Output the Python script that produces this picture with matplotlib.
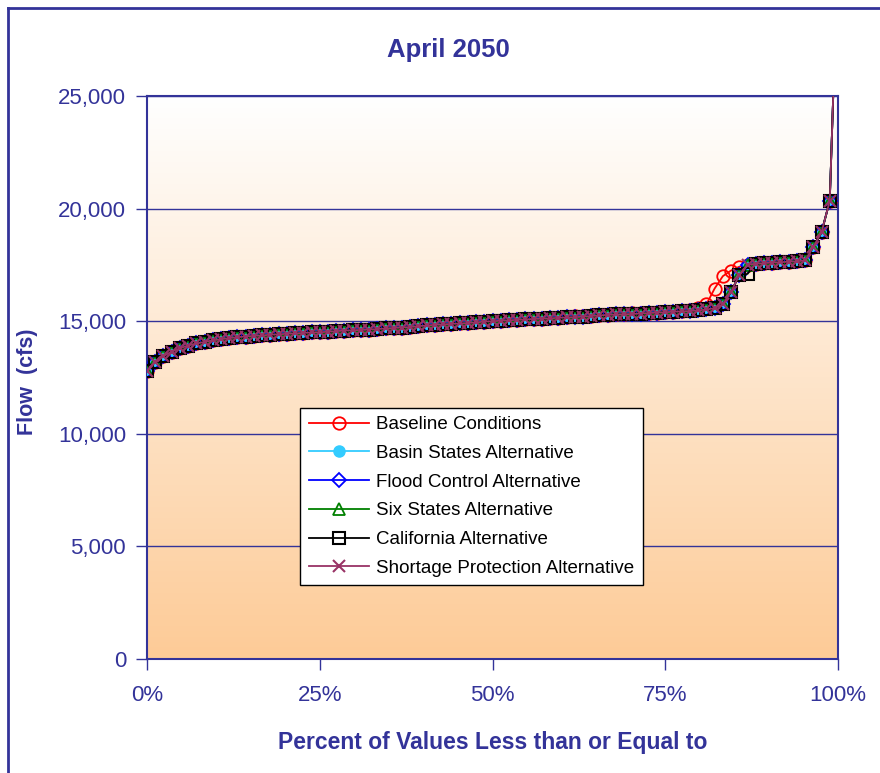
import numpy as np
import matplotlib
matplotlib.use('Agg')
import matplotlib.pyplot as plt
from matplotlib.colors import LinearSegmentedColormap
from matplotlib.ticker import FuncFormatter
from matplotlib.lines import Line2D

plt.rcParams['font.family'] = ['Liberation Sans', 'DejaVu Sans']

# データ (85 traces, April 2050)
n_traces = 85
pct = [i * 100.0 / (n_traces - 1) for i in range(n_traces)]

alt_flow = [
    12800, 13200, 13450, 13650, 13800, 13920, 14010, 14080, 14150, 14200,
    14250, 14290, 14320, 14350, 14370, 14400, 14420, 14440, 14460, 14480,
    14500, 14510, 14530, 14560, 14580, 14600, 14610, 14630, 14650, 14680,
    14700, 14720, 14740, 14780, 14810, 14840, 14860, 14880, 14900, 14920,
    14950, 14980, 15000, 15020, 15040, 15060, 15080, 15100, 15110, 15130,
    15150, 15170, 15180, 15200, 15230, 15260, 15280, 15300, 15310, 15320,
    15340, 15360, 15380, 15400, 15420, 15440, 15450, 15480, 15520, 15580,
    15750, 16300, 17050, 17500, 17550, 17580, 17600, 17620, 17640, 17660,
    17700, 18300, 18950, 20350, 31500,
]

baseline = list(alt_flow)
baseline[52] = 15220
baseline[53] = 15240
baseline[59] = 15360
baseline[60] = 15380
baseline[66] = 15500
baseline[67] = 15580
baseline[68] = 15750
baseline[69] = 16450
baseline[70] = 17000
baseline[71] = 17250
baseline[72] = 17420

basin_states = list(alt_flow)
flood_control = list(alt_flow)
six_states = list(alt_flow)
california = list(alt_flow)
california[73] = 17100
shortage_protection = list(alt_flow)

navy = '#333399'

fig = plt.figure(figsize=(8.8, 7.73), dpi=100)
ax = fig.add_axes([147 / 880, 1 - 659 / 773, 691 / 880, 563 / 773])

# 背景グラデーション
cmap = LinearSegmentedColormap.from_list('peach', ['#FFFFFF', '#FDCB97'])
grad = np.linspace(0, 1, 256).reshape(-1, 1)
ax.imshow(grad, extent=[0, 100, 0, 25000], aspect='auto', cmap=cmap, zorder=0)

ax.yaxis.grid(True, color=navy, linewidth=1.0, zorder=1)

series = [
    ('Baseline Conditions', baseline, dict(color='#FF0000', marker='o', mfc='none', ms=9, mew=1.3)),
    ('Basin States Alternative', basin_states, dict(color='#33CCFF', marker='o', mfc='#33CCFF', ms=8, mew=1)),
    ('Flood Control Alternative', flood_control, dict(color='#0000FF', marker='D', mfc='none', ms=7, mew=1.3)),
    ('Six States Alternative', six_states, dict(color='#008000', marker='^', mfc='none', ms=8, mew=1.3)),
    ('California Alternative', california, dict(color='#000000', marker='s', mfc='none', ms=9, mew=1.5)),
    ('Shortage Protection Alternative', shortage_protection, dict(color='#993366', marker='x', ms=8, mew=1.5)),
]
for i, (name, vals, style) in enumerate(series):
    ax.plot(pct, vals, label=name, linewidth=1.3, zorder=3 + i, **style)

ax.set_xlim(0, 100)
ax.set_ylim(0, 25000)
ax.set_xticks([0, 25, 50, 75, 100])
ax.set_yticks(range(0, 25001, 5000))
ax.xaxis.set_major_formatter(FuncFormatter(lambda v, p: f'{int(v)}%'))
ax.yaxis.set_major_formatter(FuncFormatter(lambda v, p: f'{int(v):,}'))
ax.tick_params(axis='both', colors=navy, labelcolor=navy, labelsize=16,
               direction='out', length=8, width=1)
ax.tick_params(axis='y', pad=7)
ax.tick_params(axis='x', pad=11)
for sp in ax.spines.values():
    sp.set_color(navy)
    sp.set_linewidth(1.5)

leg = ax.legend(loc='center', bbox_to_anchor=(0.4696, 0.2886), fontsize=13.5,
                frameon=True, fancybox=False, edgecolor='black', framealpha=1,
                handlelength=3.2, handletextpad=0.4, labelspacing=0.62,
                borderpad=0.45, borderaxespad=0)
leg.get_frame().set_linewidth(1.0)
leg.set_zorder(20)

fig.text(0.51, 1 - 50 / 773, 'April 2050', ha='center', va='center',
         fontsize=18.5, fontweight='bold', color=navy)
fig.text(493 / 880, 1 - 742 / 773, 'Percent of Values Less than or Equal to',
         ha='center', va='center', fontsize=16.5, fontweight='bold', color=navy)
fig.text(28 / 880, 1 - 382 / 773, 'Flow  (cfs)', ha='center', va='center',
         rotation=90, fontsize=15.5, fontweight='bold', color=navy)

# 外枠
fig.add_artist(Line2D([8 / 880, 8 / 880], [0, 1 - 8 / 773], transform=fig.transFigure,
                      color=navy, linewidth=2))
fig.add_artist(Line2D([8 / 880, 1], [1 - 8 / 773, 1 - 8 / 773], transform=fig.transFigure,
                      color=navy, linewidth=2))

fig.savefig('out.png', dpi=100)
